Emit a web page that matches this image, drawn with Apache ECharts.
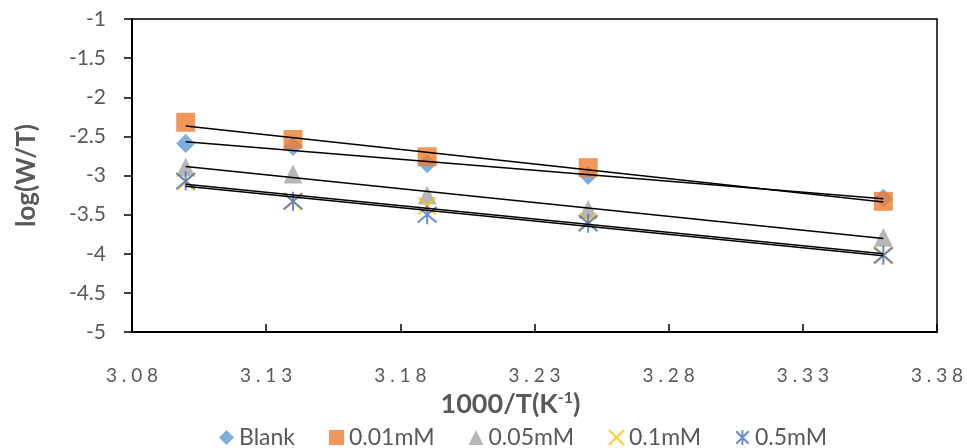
<!DOCTYPE html>
<html>
<head>
<meta charset="utf-8">
<script src="https://cdn.jsdelivr.net/npm/echarts@6/dist/echarts.min.js"></script>
<style>
  html, body { margin: 0; padding: 0; background: #fff; }
  #chart { width: 967px; height: 448px; }
</style>
</head>
<body>
<div id="chart"></div>
<script>
const xVals = [3.10, 3.14, 3.19, 3.25, 3.36]
const blank = [-2.59, -2.63, -2.85, -3.00, -3.29]
const c001 = [-2.32, -2.54, -2.76, -2.90, -3.33]
const c005 = [-2.89, -2.98, -3.25, -3.43, -3.79]
const c01 = [-3.08, -3.33, -3.39, -3.59, -4.02]
const c05 = [-3.07, -3.33, -3.50, -3.61, -4.02]
const yTicks = [-5, -4.5, -4, -3.5, -3, -2.5, -2, -1.5, -1]

const names = ['Blank', '0.01mM', '0.05mM', '0.1mM', '0.5mM']
const values = [blank, c001, c005, c01, c05]
const colors = ['#5B9BD5', '#ED7D31', '#A5A5A5', '#FFC000', '#4472C4']
const symbols = [
  'diamond', 'rect', 'triangle',
  'path://M0,0L10,10M10,0L0,10',
  'path://M1,1L11,11M11,1L1,11M6,0L6,12'
]
const sizes = [19, 19, 19, 17, 19]

// least squares fit, like Excel's linear trendline
function fit(xs, ys) {
  const n = xs.length
  const mx = xs.reduce((a, b) => a + b, 0) / n
  const my = ys.reduce((a, b) => a + b, 0) / n
  let sxy = 0, sxx = 0
  for (let i = 0; i < n; i++) {
    sxy += (xs[i] - mx) * (ys[i] - my)
    sxx += (xs[i] - mx) ** 2
  }
  const b = sxy / sxx
  const a = my - b * mx
  return [[xs[0], a + b * xs[0]], [xs[n - 1], a + b * xs[n - 1]]]
}

const font = 'Lato, "Open Sans", sans-serif'
const grey = '#595959'

const series = []
names.forEach((name, i) => {
  const isLine = i >= 3
  series.push({
    name, type: 'scatter',
    data: xVals.map((x, j) => [x, values[i][j]]),
    symbol: symbols[i], symbolSize: sizes[i],
    itemStyle: isLine
      ? { color: 'transparent', borderColor: colors[i], borderWidth: 2 }
      : { color: colors[i] },
    z: 2
  })
})
names.forEach((name, i) => {
  series.push({
    type: 'line', data: fit(xVals, values[i]),
    symbol: 'none', silent: true,
    lineStyle: { color: '#000', width: 1.5 }, z: 5
  })
})

const chart = echarts.init(document.getElementById('chart'))
chart.setOption({
  animation: false,
  textStyle: { fontFamily: font },
  grid: {
    left: 132, right: 30, top: 19, bottom: 116,
    show: true, borderColor: '#000', borderWidth: 1.5
  },
  xAxis: {
    type: 'value', min: 3.08, max: 3.38, interval: 0.05,
    axisLine: { lineStyle: { color: '#000', width: 2 } },
    axisTick: { inside: true, length: 8, lineStyle: { color: '#000', width: 1.5 } },
    splitLine: { show: false },
    axisLabel: {
      margin: 34, color: grey, fontSize: 19, fontFamily: font,
      formatter: v => v.toFixed(2).split('').join(' ')
    },
    name: '{n|1000/T(K}{s|-1}{n|)}',
    nameLocation: 'middle', nameGap: 52,
    nameTextStyle: {
      padding: [0, 48, 0, 0],
      rich: {
        n: { fontSize: 27, fontWeight: 'bold', color: grey, fontFamily: font },
        s: { fontSize: 16, fontWeight: 'bold', color: grey, fontFamily: font, verticalAlign: 'top', padding: [0, 0, 12, 0] }
      }
    }
  },
  yAxis: {
    type: 'value', min: yTicks[0], max: yTicks[yTicks.length - 1], interval: 0.5,
    axisLine: { lineStyle: { color: '#000', width: 2 } },
    axisTick: { length: 8, lineStyle: { color: '#000', width: 1.5 } },
    splitLine: { show: false },
    axisLabel: { margin: 26, color: grey, fontSize: 21, fontFamily: font },
    name: 'log(W/T)', nameLocation: 'middle', nameGap: 92,
    nameTextStyle: { fontSize: 26, fontWeight: 'bold', color: grey, fontFamily: font }
  },
  legend: {
    data: names, top: 421, left: 214, itemGap: 34,
    itemWidth: 15, itemHeight: 15,
    textStyle: { fontSize: 23, color: grey, fontFamily: font }
  },
  series
})
</script>
</body>
</html>
